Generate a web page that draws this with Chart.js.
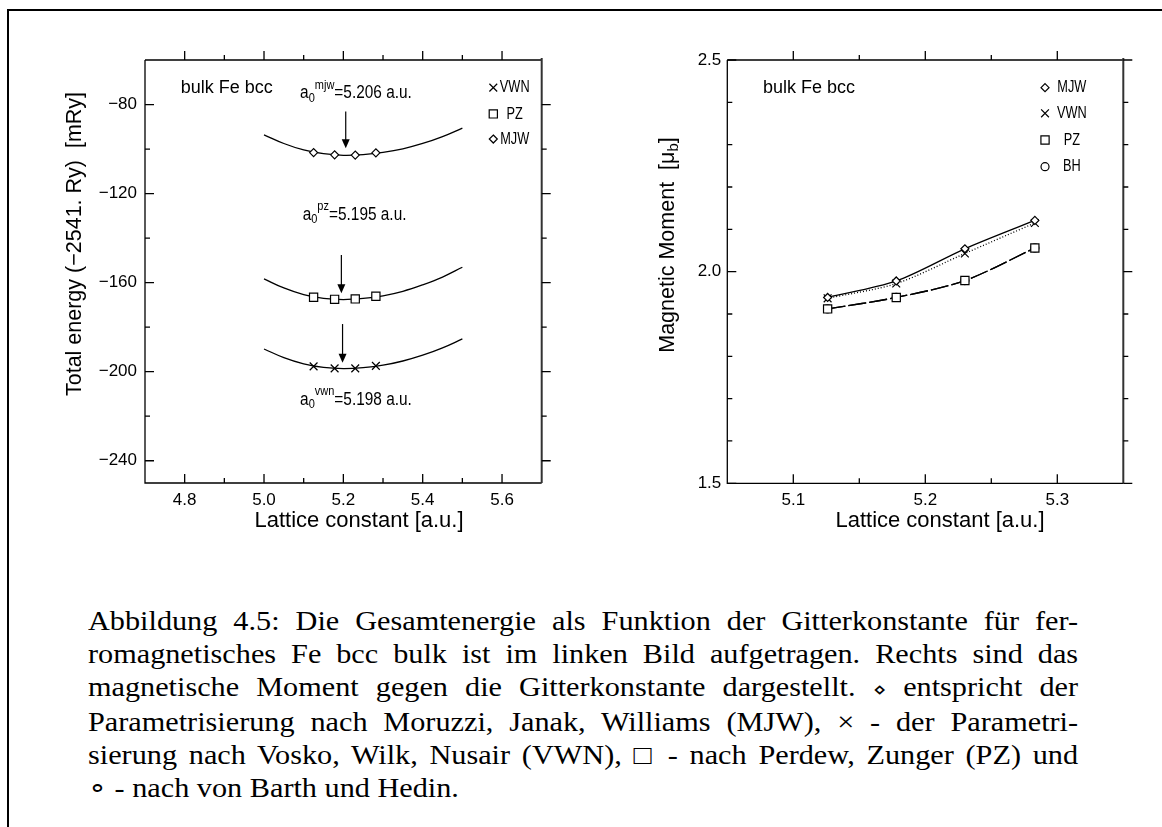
<!DOCTYPE html>
<html><head><meta charset="utf-8">
<script src="https://cdn.jsdelivr.net/npm/chart.js@4/dist/chart.umd.min.js"></script>
<style>
html,body{margin:0;padding:0;background:#fff;width:1162px;height:827px;overflow:hidden;}
#frame{position:absolute;left:7px;top:9px;width:1160px;height:830px;border-top:2px solid #000;border-left:2px solid #000;}
#c1{position:absolute;left:0;top:0;}
#c2{position:absolute;left:600px;top:0;}
#cap{position:absolute;left:88px;top:605px;width:884px;transform:scaleX(1.12);transform-origin:0 0;font-family:"Liberation Serif","Times New Roman",serif;font-size:27px;line-height:33px;color:#000;}
#cap .j{text-align:justify;text-align-last:justify;}
#cap .s{font-size:19px;}
</style></head>
<body>
<div id="frame"></div>
<canvas id="c1" width="620" height="560"></canvas>
<canvas id="c2" width="562" height="560"></canvas>
<div id="cap">
<div class="j">Abbildung 4.5: Die Gesamtenergie als Funktion der Gitterkonstante für fer-</div>
<div class="j">romagnetisches Fe bcc bulk ist im linken Bild aufgetragen. Rechts sind das</div>
<div class="j">magnetische Moment gegen die Gitterkonstante dargestellt. <span class="s">⋄</span> entspricht der</div>
<div class="j">Parametrisierung nach Moruzzi, Janak, Williams (MJW), × - der Parametri-</div>
<div class="j">sierung nach Vosko, Wilk, Nusair (VWN), □ - nach Perdew, Zunger (PZ) und</div>
<div>∘ - nach von Barth und Hedin.</div>
</div>
<script>
// ---------- data: left panel (total energy) ----------
const latticeE = [5.125, 5.178, 5.230, 5.282];
const mjwE = [-101.6, -102.6, -102.7, -101.7];
const pzE  = [-166.6, -167.5, -167.3, -166.1];
const vwnE = [-197.6, -198.5, -198.5, -197.4];
const fitX   = [5.0, 5.05, 5.1, 5.15, 5.2, 5.25, 5.3, 5.35, 5.4, 5.45, 5.5];
const mjwFit = [-93.6, -97.5, -100.4, -102.1, -102.8, -102.5, -101.5, -99.9, -97.5, -94.4, -90.6];
const pzFit  = [-158.3, -162.4, -165.4, -167.1, -167.6, -167.1, -165.9, -163.9, -161.0, -157.5, -153.1];
const vwnFit = [-189.8, -193.7, -196.5, -198.1, -198.6, -198.2, -197.1, -195.2, -192.6, -189.3, -185.3];
const a0Mjw = 5.206, a0Pz = 5.195, a0Vwn = 5.198;
const leftXMajor = [4.8, 5.0, 5.2, 5.4, 5.6];
const leftXMinor = [4.9, 5.1, 5.3, 5.5];
const leftYMajor = [-240, -200, -160, -120, -80];
const leftYMinor = [-220, -180, -140, -100];

// ---------- data: right panel (magnetic moment) ----------
const latticeM = [5.126, 5.178, 5.230, 5.283];
const mjwM = [1.939, 1.978, 2.054, 2.121];
const vwnM = [1.937, 1.972, 2.043, 2.115];
const pzM  = [1.912, 1.939, 1.979, 2.056];
const bhM  = [1.912, 1.939, 1.979, 2.056];
const rightXMajor = [5.1, 5.2, 5.3];
const rightXMinor = [5.15, 5.25];
const rightYMajor = [1.5, 2.0, 2.5];
const rightYMinor = [1.6, 1.7, 1.8, 1.9, 2.1, 2.2, 2.3, 2.4];

const FAM = '"Liberation Sans", Arial, sans-serif';
Chart.defaults.font.family = FAM;
Chart.defaults.color = '#000';

const pts = (xs, ys) => xs.map((x, i) => ({x, y: ys[i]}));

function marker(ctx, style, x, y, r) {
  ctx.save();
  ctx.fillStyle = '#fff'; ctx.strokeStyle = '#000'; ctx.lineWidth = 1.2;
  ctx.beginPath();
  if (style === 'rectRot') { ctx.moveTo(x, y - r); ctx.lineTo(x + r, y); ctx.lineTo(x, y + r); ctx.lineTo(x - r, y); ctx.closePath(); ctx.fill(); ctx.stroke(); }
  else if (style === 'rect') { const s = r * Math.SQRT1_2; ctx.rect(x - s, y - s, 2 * s, 2 * s); ctx.fill(); ctx.stroke(); }
  else if (style === 'circle') { ctx.arc(x, y, r, 0, Math.PI * 2); ctx.fill(); ctx.stroke(); }
  else if (style === 'crossRot') { const s = r * Math.SQRT1_2; ctx.moveTo(x - s, y - s); ctx.lineTo(x + s, y + s); ctx.moveTo(x + s, y - s); ctx.lineTo(x - s, y + s); ctx.stroke(); }
  ctx.restore();
}

// parts: [text, size, dy]; sx = horizontal condensing
function rich(ctx, parts, x, y, align, sx) {
  sx = sx || 1;
  let w = 0;
  const f = p => p[1] + 'px ' + FAM;
  const m = parts.map(p => { ctx.font = f(p); const ww = ctx.measureText(p[0]).width * sx; w += ww; return ww; });
  let cx = align === 'center' ? x - w / 2 : x;
  ctx.textBaseline = 'middle'; ctx.textAlign = 'left'; ctx.fillStyle = '#000';
  parts.forEach((p, i) => {
    ctx.save(); ctx.font = f(p); ctx.translate(cx, y + (p[2] || 0)); ctx.scale(sx, 1);
    ctx.fillText(p[0], 0, 0); ctx.restore(); cx += m[i];
  });
}

const decor = {
  id: 'decor',
  afterDraw(chart, args, o) {
    const {ctx, chartArea: ca} = chart;
    const xs = chart.scales.x, ys = chart.scales.y;
    const X = v => xs.getPixelForValue(v), Y = v => ys.getPixelForValue(v);
    ctx.save();
    // frame
    ctx.strokeStyle = '#000'; ctx.lineWidth = 1.3;
    ctx.beginPath();
    ctx.moveTo(ca.left, ca.top); ctx.lineTo(ca.right, ca.top);
    ctx.moveTo(ca.left, ca.top); ctx.lineTo(ca.left, ca.bottom); ctx.lineTo(ca.right, ca.bottom);
    ctx.stroke();
    ctx.strokeStyle = '#333'; ctx.lineWidth = 2;
    ctx.beginPath(); ctx.moveTo(ca.right, ca.top - 2); ctx.lineTo(ca.right, ca.bottom); ctx.stroke();
    // ticks
    ctx.strokeStyle = '#000'; ctx.lineWidth = 1.3;
    ctx.beginPath();
    const tx = (v, len) => { const p = X(v); ctx.moveTo(p, ca.bottom); ctx.lineTo(p, ca.bottom - len); ctx.moveTo(p, ca.top); ctx.lineTo(p, ca.top - len); };
    const ty = (v, len) => { const p = Y(v); ctx.moveTo(ca.left, p); ctx.lineTo(ca.left + len, p); ctx.moveTo(ca.right, p); ctx.lineTo(ca.right + len, p); };
    o.xMajor.forEach(v => tx(v, 9)); o.xMinor.forEach(v => tx(v, 5));
    o.yMajor.forEach(v => ty(v, 9)); o.yMinor.forEach(v => ty(v, 5));
    ctx.stroke();
    // arrows
    (o.arrows || []).forEach(a => {
      const px = X(a.x), y1 = Y(a.y1), y2 = Y(a.y2);
      ctx.strokeStyle = '#000'; ctx.lineWidth = 1.2;
      ctx.beginPath(); ctx.moveTo(px, y1); ctx.lineTo(px, y2 - 8); ctx.stroke();
      ctx.fillStyle = '#000';
      ctx.beginPath(); ctx.moveTo(px - 4, y2 - 9); ctx.lineTo(px + 4, y2 - 9); ctx.lineTo(px, y2); ctx.closePath(); ctx.fill();
    });
    // texts
    (o.texts || []).forEach(t => rich(ctx, t.parts, X(t.x), Y(t.y), t.align, t.sx));
    // legend
    (o.legend || []).forEach(l => {
      marker(ctx, l.style, X(l.mx), Y(l.y), l.r);
      rich(ctx, [[l.label, 17]], X(l.tx), Y(l.y), 'center', 0.75);
    });
    // axis titles
    rich(ctx, o.xTitle.parts, o.xTitle.x, o.xTitle.y, 'center');
    ctx.save(); ctx.translate(o.yTitle.x, o.yTitle.y); ctx.rotate(-Math.PI / 2);
    rich(ctx, o.yTitle.parts, 0, 0, 'center'); ctx.restore();
    ctx.restore();
  }
};

function scaleCfg(min, max, major, fmt, fit, pad) {
  return {
    type: 'linear', min, max,
    grid: {display: false, drawTicks: false}, border: {display: false},
    afterBuildTicks: s => { s.ticks = major.map(v => ({value: v})); },
    afterFit: fit,
    ticks: {font: {size: 17}, color: '#000', padding: pad, autoSkip: false, maxRotation: 0, callback: fmt}
  };
}

const fmtE = v => (v < 0 ? '\u2212' : '') + Math.abs(v);
const fmt1 = v => Number(v).toFixed(1);

// ---------- left chart ----------
const lineDs = (data) => ({data, showLine: true, pointRadius: 0, borderColor: '#000', borderWidth: 1.3, tension: 0.4, fill: false});
const markDs = (data, style, r) => ({data, showLine: false, pointStyle: style, pointRadius: r, backgroundColor: '#fff', borderColor: '#000', pointBorderWidth: 1.2});

new Chart(document.getElementById('c1'), {
  type: 'scatter',
  data: {datasets: [
    markDs(pts(latticeE, mjwE), 'rectRot', 4),
    markDs(pts(latticeE, pzE), 'rect', 5.8),
    markDs(pts(latticeE, vwnE), 'crossRot', 5.5),
    lineDs(pts(fitX, mjwFit)),
    lineDs(pts(fitX, pzFit)),
    lineDs(pts(fitX, vwnFit))
  ]},
  options: {
    responsive: false, animation: false, devicePixelRatio: 1,
    layout: {padding: {left: 0, right: 78.3, top: 60, bottom: 0}},
    plugins: {legend: {display: false}, tooltip: {enabled: false},
      decor: {
        xMajor: leftXMajor, xMinor: leftXMinor, yMajor: leftYMajor, yMinor: leftYMinor,
        arrows: [{x: a0Mjw, y1: -83.1, y2: -99.6}, {x: a0Pz, y1: -147.6, y2: -164.8}, {x: a0Vwn, y1: -178.6, y2: -196}],
        texts: [
          {x: 4.79, y: -72.6, parts: [['bulk Fe bcc', 18]]},
          {x: 5.091, y: -75, sx: 0.88, parts: [['a', 17.5], ['0', 12.5, 5], ['mjw', 12.5, -8], ['=' + a0Mjw.toFixed(3) + ' a.u.', 17.5]]},
          {x: 5.0975, y: -129.6, sx: 0.88, parts: [['a', 17.5], ['0', 12.5, 5], ['pz', 12.5, -8], ['=' + a0Pz.toFixed(3) + ' a.u.', 17.5]]},
          {x: 5.091, y: -212.7, sx: 0.88, parts: [['a', 17.5], ['0', 12.5, 5], ['vwn', 12.5, -8], ['=' + a0Vwn.toFixed(3) + ' a.u.', 17.5]]}
        ],
        legend: [
          {style: 'crossRot', r: 5.5, mx: 5.578, tx: 5.632, y: -72.4, label: 'VWN'},
          {style: 'rect', r: 5.8, mx: 5.578, tx: 5.632, y: -84.2, label: 'PZ'},
          {style: 'rectRot', r: 4, mx: 5.578, tx: 5.632, y: -95.5, label: 'MJW'}
        ],
        xTitle: {x: 359, y: 521, parts: [['Lattice constant [a.u.]', 22]]},
        yTitle: {x: 75, y: 244, parts: [['Total energy (\u22122541. Ry)  [mRy]', 21.5]]}
      }
    },
    scales: {
      x: scaleCfg(4.7, 5.7, leftXMajor, fmt1, s => { s.height = 77; }, 7),
      y: scaleCfg(-250, -60, leftYMajor, fmtE, s => { s.width = 145; }, 8)
    }
  },
  plugins: [decor]
});

// ---------- right chart ----------
const magDs = (data, style, r, dash) => ({data, showLine: true, pointStyle: style, pointRadius: r, backgroundColor: '#fff', borderColor: '#000', pointBorderWidth: 1.2, borderWidth: 1.3, borderDash: dash, tension: 0.3, fill: false});

new Chart(document.getElementById('c2'), {
  type: 'scatter',
  data: {datasets: [
    magDs(pts(latticeM, mjwM), 'rectRot', 4, []),
    magDs(pts(latticeM, vwnM), 'crossRot', 5.5, [1, 2]),
    magDs(pts(latticeM, pzM), 'rect', 5.8, [18, 3]),
    magDs(pts(latticeM, bhM), 'circle', 4, [18, 3])
  ]},
  options: {
    responsive: false, animation: false, devicePixelRatio: 1,
    layout: {padding: {left: 0, right: 38.7, top: 60, bottom: 0}},
    plugins: {legend: {display: false}, tooltip: {enabled: false},
      decor: {
        xMajor: rightXMajor, xMinor: rightXMinor, yMajor: rightYMajor, yMinor: rightYMinor,
        texts: [{x: 5.077, y: 2.433, parts: [['bulk Fe bcc', 18]]}],
        legend: [
          {style: 'rectRot', r: 4, mx: 5.2907, tx: 5.311, y: 2.4346, label: 'MJW'},
          {style: 'crossRot', r: 5.5, mx: 5.2907, tx: 5.311, y: 2.374, label: 'VWN'},
          {style: 'rect', r: 5.8, mx: 5.2907, tx: 5.311, y: 2.311, label: 'PZ'},
          {style: 'circle', r: 4, mx: 5.2907, tx: 5.311, y: 2.248, label: 'BH'}
        ],
        xTitle: {x: 340, y: 521, parts: [['Lattice constant [a.u.]', 22]]},
        yTitle: {x: 68.3, y: 245, parts: [['Magnetic Moment  [\u03bc', 21.5], ['b', 15, 6], [']', 21.5]]}
      }
    },
    scales: {
      x: scaleCfg(5.05, 5.35, rightXMajor, fmt1, s => { s.height = 76.7; }, 7),
      y: scaleCfg(1.5, 2.5, rightYMajor, fmt1, s => { s.width = 127.3; }, 6)
    }
  },
  plugins: [decor]
});
</script>
</body></html>
